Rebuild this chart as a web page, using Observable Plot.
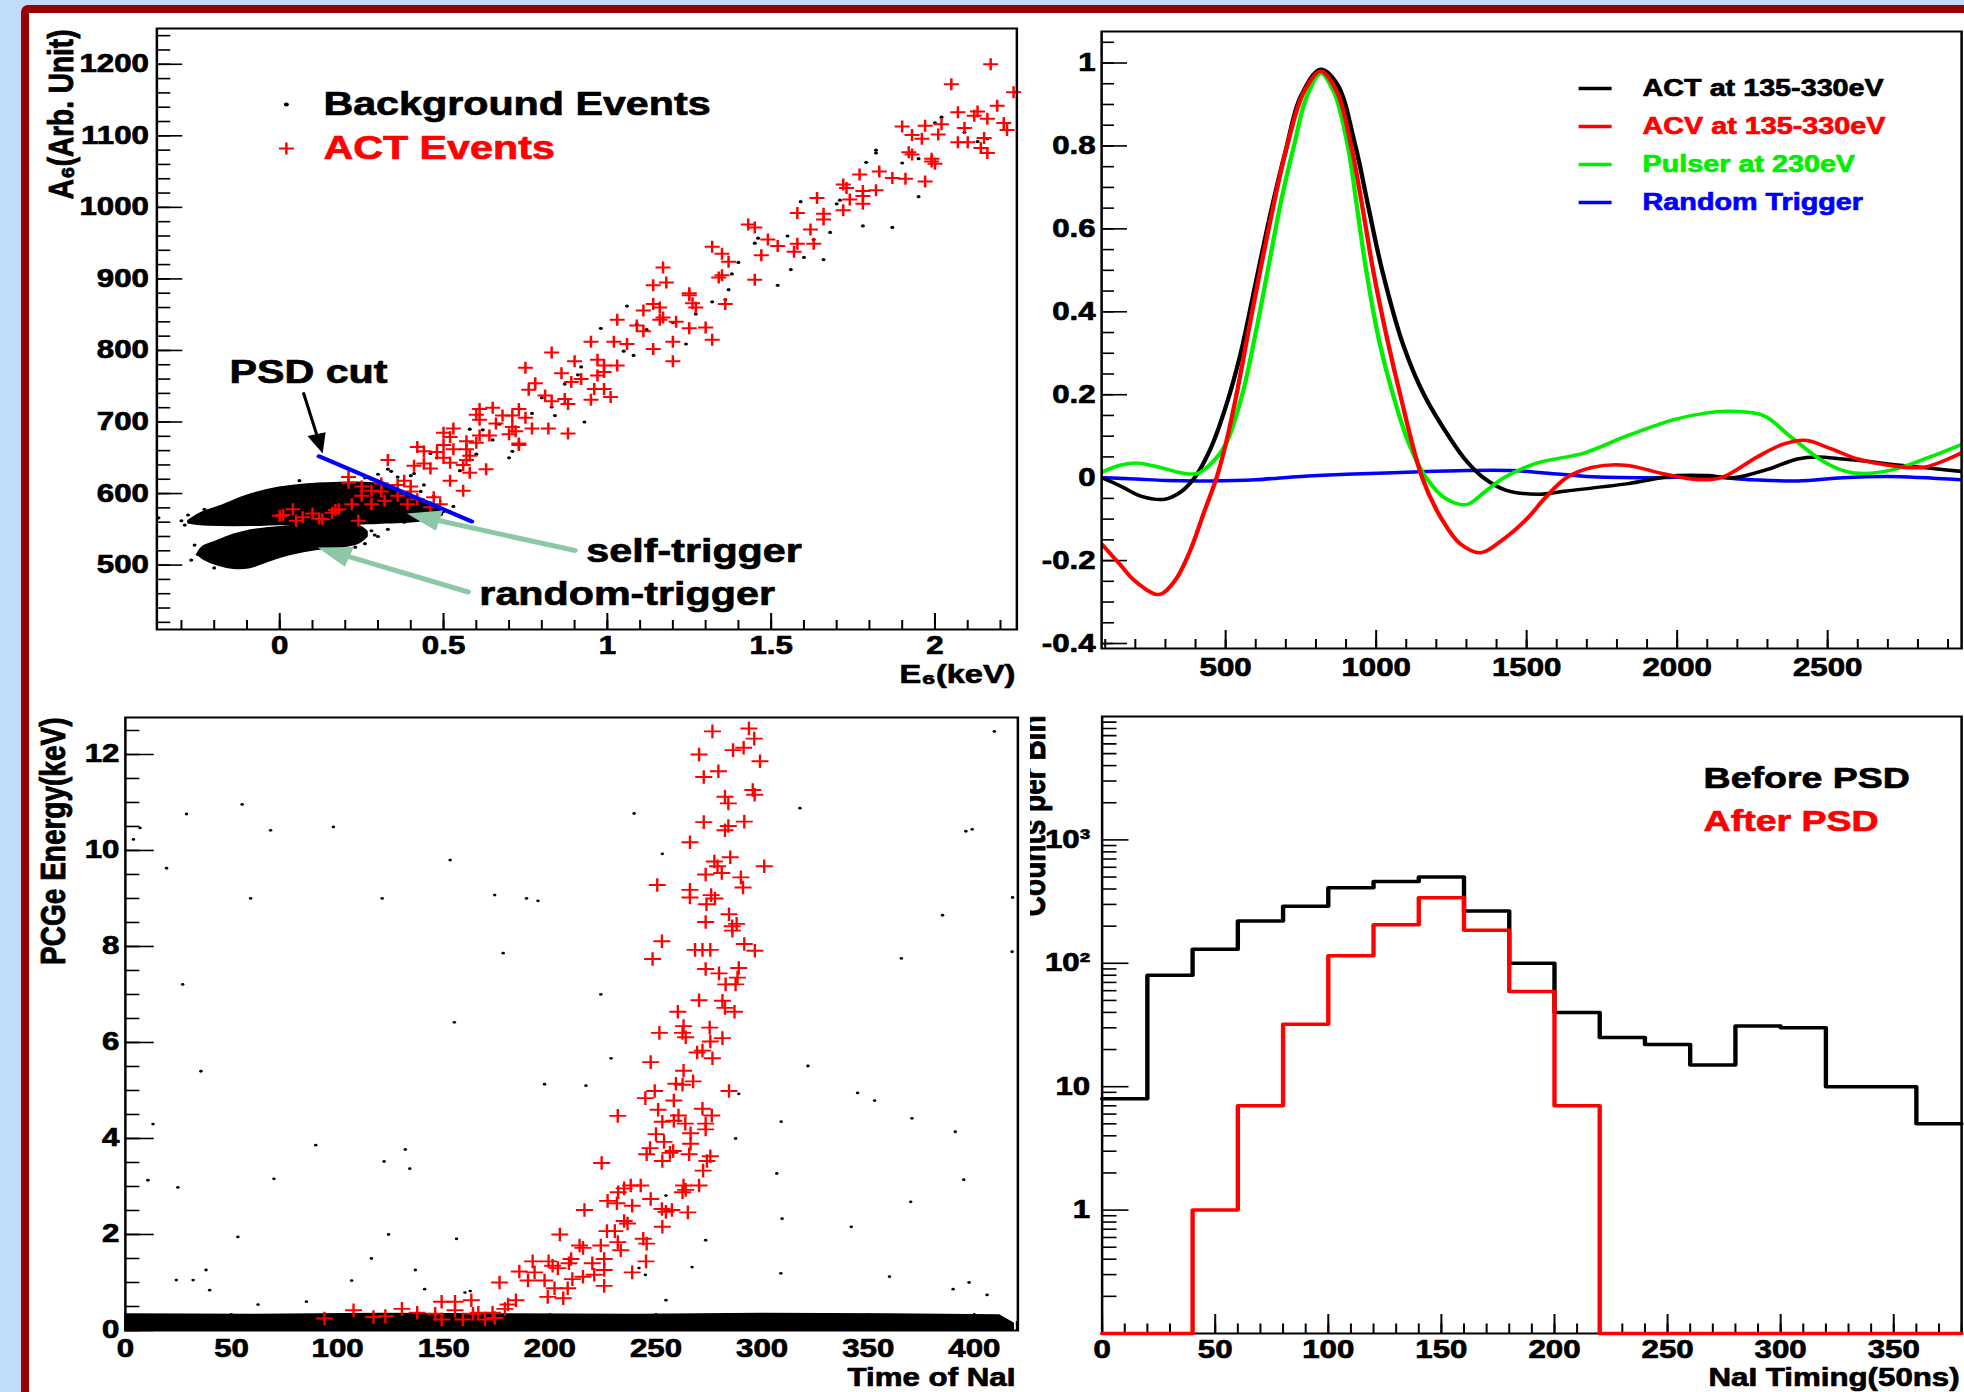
<!DOCTYPE html>
<html>
<head>
<meta charset="utf-8">
<script src="https://cdn.jsdelivr.net/npm/d3@7"></script>
<script src="https://cdn.jsdelivr.net/npm/@observablehq/plot@0.6"></script>
<style>
  html, body { margin: 0; padding: 0; background: #bfdcfb; }
  #page { position: relative; width: 1964px; height: 1392px; overflow: hidden; background: #bfdcfb; }
  #sheet { position: absolute; left: 21px; top: 5px; width: 1960px; height: 1400px; background: #990000; border-top-left-radius: 7px; }
  #paper { position: absolute; left: 29px; top: 13px; width: 1935px; height: 1379px; background: #ffffff; }
  #stretch { position: absolute; left: 0; top: 0; height: 1392px; transform-origin: 0 0; }
  .pad { position: absolute; overflow: hidden; }
</style>
</head>
<body>
<div id="page">
  <div id="sheet"></div>
  <div id="paper"></div>
  <div id="stretch"></div>
</div>
<script>
// ---------------------------------------------------------------------------
// Panel (a): A6 vs E6 scatter
// ---------------------------------------------------------------------------
const actE6 = [
  2.17,2.05,2.24,2.19,2.07,2.13,2.12,2.16,2.21,2.22,
  1.90,1.97,2.02,2.09,1.93,1.96,2.01,2.07,2.10,2.15,
  2.14,2.16,1.92,1.93,1.99,2.00,1.99,1.83,1.87,1.91,
  1.97,1.77,1.72,1.73,1.78,1.82,1.78,1.64,1.74,1.78,
  1.72,1.66,1.58,1.66,1.43,1.45,1.62,1.63,1.32,1.58,
  1.57,1.49,1.52,1.35,1.47,1.37,1.17,1.35,1.45,1.14,
  1.18,1.25,1.34,1.36,1.26,1.27,1.25,1.11,1.14,1.16,
  1.17,1.16,1.21,1.03,1.25,1.30,1.09,1.11,0.95,1.02,
  1.20,1.32,1.06,1.14,1.20,0.97,0.99,0.90,1.03,0.99,
  0.86,0.97,0.92,0.89,0.75,0.83,0.78,0.96,0.81,0.87,
  0.83,0.88,0.99,0.76,0.95,1.01,0.73,0.71,0.75,0.68,
  0.65,0.61,0.60,0.61,0.66,0.71,0.77,0.82,0.88,0.72,
  0.70,0.64,0.73,0.73,0.61,0.57,0.60,0.53,0.50,0.52,
  0.50,0.42,0.44,0.48,0.53,0.57,0.58,0.57,0.56,0.50,
  0.52,0.46,0.44,0.41,0.33,0.63,0.58,0.52,0.56,0.47,
  0.40,0.36,0.38,0.21,0.21,0.25,0.31,0.01,0.04,0.05,
  0.10,0.12,0.16,0.18,0.22,0.25,0.28,0.32,0.36,0.39,
  0.42,0.46,0.24,0.40,0.31,0.28,0.00,0.07,0.13,0.17,
  0.49
];
const actA6 = [
  1200,1172,1161,1142,1133,1134,1128,1124,1118,1108,
  1113,1114,1116,1111,1101,1096,1102,1091,1091,1097,
  1083,1076,1077,1074,1068,1061,1064,1050,1041,1040,
  1036,1046,1032,1027,1023,1024,1016,1013,1011,1005,
  996,991,992,983,976,972,969,949,945,949,
  938,955,946,935,933,924,916,905,899,891,
  895,880,902,865,866,860,877,856,865,860,
  846,843,840,843,831,832,835,827,812,812,
  812,815,809,802,785,787,779,785,779,770,
  768,765,760,756,776,797,754,746,737,732,
  729,725,746,745,731,735,718,709,706,709,
  720,718,710,703,698,693,691,691,684,687,
  683,681,670,668,681,673,671,691,685,679,
  668,665,659,658,662,662,653,647,640,650,
  643,635,642,639,647,634,629,618,604,595,
  610,612,618,623,615,610,614,570,578,562,
  572,565,573,578,585,597,585,590,597,585,
  592,581,562,603,603,604,569,567,564,577,
  585
];
const bgE6 = [
  2.02,2.09,2.16,1.82,1.82,1.79,1.95,1.95,1.78,1.87,
  1.66,1.52,1.56,1.63,1.68,1.70,1.59,1.46,1.38,1.37,
  1.36,1.32,1.24,1.20,1.09,1.12,1.08,1.05,0.98,0.93,
  0.91,0.87,0.80,0.83,0.84,0.70,0.71,0.65,0.67,0.58,
  0.62,0.48,0.46,0.41,0.40,0.34,0.30,0.26,0.28,0.36,
  0.44,0.33,-0.37,-0.26,-0.29,-0.30,0.30,0.33,0.28,-0.25,
  -0.20,0.50,0.52,0.48,0.38,0.26,0.23,1.40,1.55,1.06,
  0.92,0.77,0.55,0.60,1.27,1.71,1.90,2.00,2.13,1.60,
  1.45,-0.28,-0.23,0.43,0.47,0.53,0.29,0.20,-0.27,0.06
];
const bgA6 = [
  1126,1105,1096,1080,1076,1063,1068,1015,974,972,
  927,891,913,955,965,1005,1008,957,907,885,
  871,868,809,839,837,829,793,799,831,700,
  766,753,734,721,709,650,659,675,697,690,
  689,650,656,628,625,631,627,622,620,623,
  612,634,566,528,556,562,540,550,548,515,
  496,575,574,568,560,530,525,923,960,862,
  777,712,632,655,851,1010,1062,1118,1092,930,
  950,570,578,603,596,582,542,531,507,618
];
// dense background populations (solid at this point density): lower / upper edges
const selfBlobE  = [-0.275,-0.24,-0.18,-0.09,0.0,0.07,0.14,0.22,0.30,0.36,0.42,0.47,0.495];
const selfBlobLo = [559,557,556,556,557,557,557,557.5,559,560,561.5,566,570];
const selfBlobHi = [561,571,581,597,607,611,613,614,612,603,591,581,572];
const randBlobE  = [-0.245,-0.23,-0.19,-0.14,-0.09,-0.04,0.03,0.11,0.18,0.24,0.265];
const randBlobLo = [514,509,501,496,497,505,515,522,525,531,540];
const randBlobHi = [517,525,532,541,547,550,553,555,556,554,546];
// PSD cut line and annotation arrows
const psdCutE = [0.12, 0.586];
const psdCutA = [652, 561];
const psdArrowE = [0.073, 0.131];
const psdArrowA = [740, 656];
const trigLabels = ["self-trigger", "random-trigger"];
const trigFromE = [0.90, 0.574];
const trigFromA = [520.5, 462.5];
const trigToE = [0.388, 0.116];
const trigToA = [572, 524.7];
const p1XTicks = [0, 0.5, 1, 1.5, 2];
const p1XLabels = ["0", "0.5", "1", "1.5", "2"];
const p1YTicks = [500, 600, 700, 800, 900, 1000, 1100, 1200];

// ---------------------------------------------------------------------------
// Panel (b): averaged pulse shapes
// ---------------------------------------------------------------------------
const actT = [88,150,220,298,350,397,450,500,550,600,650,700,750,816,870,931,975,1020,1090,1159,1250,1300,1356,1430,1534,1633,1831,2000,2100,2187,2300,2400,2464,2550,2622,2741,2850,2945];
const actV = [0,-0.02,-0.045,-0.052,-0.035,0,0.07,0.17,0.3,0.47,0.64,0.79,0.92,0.985,0.95,0.8,0.65,0.5,0.32,0.2,0.09,0.04,0,-0.03,-0.04,-0.032,-0.015,0.005,0.005,0,0.02,0.045,0.05,0.045,0.04,0.03,0.022,0.015];
const acvT = [88,150,200,278,330,380,430,470,500,536,575,615,660,704,760,816,870,917,955,990,1035,1080,1153,1218,1280,1347,1420,1500,1560,1633,1720,1828,1950,2069,2147,2266,2350,2425,2510,2600,2701,2820,2945];
const acvV = [-0.16,-0.21,-0.25,-0.282,-0.25,-0.18,-0.08,0,0.08,0.2,0.35,0.5,0.66,0.8,0.93,0.98,0.93,0.8,0.65,0.5,0.34,0.2,0,-0.1,-0.16,-0.181,-0.15,-0.1,-0.05,0,0.025,0.03,0.01,-0.005,0,0.05,0.08,0.09,0.07,0.045,0.03,0.025,0.06];
const pulserT = [88,150,209,280,350,407,460,500,555,600,640,685,727,770,816,860,906,935,967,1010,1056,1110,1166,1230,1300,1360,1425,1534,1693,1831,1989,2088,2168,2286,2375,2484,2560,2622,2721,2840,2945];
const pulserV = [0.013,0.03,0.035,0.025,0.012,0.01,0.04,0.08,0.2,0.35,0.5,0.67,0.8,0.92,0.975,0.93,0.8,0.66,0.5,0.33,0.2,0.08,0,-0.05,-0.065,-0.035,0,0.035,0.06,0.1,0.14,0.155,0.16,0.15,0.1,0.04,0.015,0.01,0.02,0.05,0.08];
const randomT = [88,200,300,450,600,750,900,1100,1300,1450,1550,1700,1900,2100,2250,2400,2550,2700,2945];
const randomV = [0,-0.003,-0.007,-0.008,-0.005,0.003,0.008,0.013,0.017,0.017,0.012,0.003,0,0.002,-0.005,-0.008,0,0.003,-0.005];
const pulseNames = ["ACT at 135-330eV", "ACV at 135-330eV", "Pulser at 230eV", "Random Trigger"];
const pulseColors = ["#000000", "#ff0000", "#00ee00", "#0000ff"];
const p2XTicks = [500, 1000, 1500, 2000, 2500];
const p2YTicks = [-0.4, -0.2, 0, 0.2, 0.4, 0.6, 0.8, 1];
const p2YLabels = ["-0.4", "-0.2", "0", "0.2", "0.4", "0.6", "0.8", "1"];

// ---------------------------------------------------------------------------
// Panel (c): PCGe energy vs NaI timing
// ---------------------------------------------------------------------------
const actTime = [
  293.8,276.6,296.3,270.3,286.3,291.3,299,272.5,279.4,295.6,
  296.5,282.5,284.1,272.5,291.6,282.5,284.1,266,285,277.5,
  279,301,273.4,281,290,291,250.6,266,266,276,
  277.8,273.8,284.4,273.4,285.9,288,286,252.8,291.6,248.4,
  268.4,271.9,275.6,296.6,289,273.4,279.7,288.4,282.8,287.5,
  270.3,281.3,282.5,287,260.3,251.6,262.5,263,275.3,264,
  275.6,281.3,269.4,271.9,276.6,247.5,263,267.5,259.4,262.5,
  249.4,245,284.4,258.4,251,271.9,276.3,260.6,232,253,
  263.8,273.4,273.4,266.3,250,258.4,253.8,266.3,245.6,247.2,
  258.1,256.6,253,275.6,274,265.6,272.2,224.4,238.1,235,
  242.8,270.3,263,262.5,264,232.2,227.2,231.6,247.5,238.8,
  252.8,257.5,265,254.7,253,235,236.6,216.3,230.6,226.9,
  224,215.6,214,232,225.6,233.4,245.6,244,245.3,238.8,
  204.7,203.8,191.9,185.6,199.4,201.3,210,209,220,225.6,
  220.9,215.6,192.8,210.6,189.7,197.5,202.2,208.4,199,206.3,
  225.6,176.3,180.3,184,178.8,173,163,155.3,149,155.3,
  163.8,166.3,130.3,137.5,146,107.5,122.5,116.9,93.8,149,
  159,169.4,174
];
const actEnergy = [
  12.54,12.48,12.33,12.0,12.09,12.14,11.86,11.53,11.65,11.26,
  11.16,11.12,10.98,10.59,10.6,10.42,10.51,10.17,9.86,9.77,
  9.67,9.67,9.5,9.53,9.44,9.23,9.28,9.18,9.02,9.07,
  9.0,8.88,8.67,8.51,8.42,8.47,8.33,8.11,8.05,7.74,
  7.93,7.93,7.93,7.91,7.55,7.53,7.44,7.35,7.21,7.21,
  6.88,6.87,6.72,6.64,6.64,6.2,6.2,6.34,6.31,6.11,
  6.02,6.09,5.79,5.83,5.67,5.59,5.41,5.19,5.14,5.12,
  4.99,4.84,4.99,4.79,4.6,4.62,4.48,4.48,4.47,4.35,
  4.31,4.31,4.19,4.11,4.09,4.37,3.93,3.89,3.67,3.8,
  3.74,3.7,3.53,3.63,3.53,3.67,3.33,3.49,3.02,2.96,
  3.02,3.02,3.02,2.88,2.93,2.88,2.7,2.65,2.74,2.6,
  2.53,2.51,2.46,2.47,2.16,2.28,2.23,2.51,2.07,2.07,
  1.77,1.72,1.77,1.84,1.49,1.67,1.81,1.91,1.44,1.21,
  2.0,1.3,1.44,1.23,1.44,1.35,1.49,1.4,1.4,1.26,
  1.16,1.12,1.21,1.07,1.04,1.04,0.88,0.88,0.7,0.67,
  0.93,1.0,0.54,0.63,0.45,0.37,0.63,0.6,0.6,0.42,
  0.35,0.37,0.45,0.37,0.35,0.42,0.3,0.28,0.25,0.23,
  0.23,0.23,0.26
];
const bgTime = [
  409.4,55,28.8,6.9,3.8,68.4,98,19.4,153,239.7,
  253,317.8,396,399,59,121,174,189,194.4,418,
  385,27,178,365.6,417.8,224,155,228.8,321.6,35.6,
  197.5,217,289,345,353,13,309,370.6,391,287.5,
  89.7,131.9,121.9,134,70,10.6,306.9,395,24.7,370,
  254.7,309.4,342,53,124,156,273.4,115.9,267,308.8,
  24,31.9,38,39.7,106.6,136.6,141,360,390,397.5,
  406,254.7,242,85.3,62.5,160,162.5,245
];
const bgEnergy = [
  12.48,10.96,10.76,10.47,10.23,10.42,10.49,9.63,9.8,10.77,
  9.93,10.88,10.4,10.44,9.0,9.0,9.07,9.0,8.95,9.02,
  8.65,7.21,7.86,7.75,7.89,7.0,6.42,5.67,5.51,5.4,
  5.13,5.1,4.93,4.95,4.79,4.3,4.35,4.42,4.14,4.0,
  3.86,3.77,3.52,3.37,3.16,3.13,3.27,3.14,2.98,2.68,
  2.81,2.33,2.16,1.95,2.0,1.91,1.88,1.5,1.32,1.19,
  1.05,1.05,1.26,0.84,1.04,1.26,0.86,1.12,0.86,1.0,
  0.74,0.63,1.3,0.6,0.54,0.79,0.82,1.16
];
// noise band near threshold (solid at this density): upper edge
const bandTime = [0, 60, 120, 180, 240, 300, 360, 412, 419];
const bandTop  = [0.35, 0.34, 0.36, 0.35, 0.34, 0.36, 0.35, 0.33, 0.15];
const p3XTicks = [0, 50, 100, 150, 200, 250, 300, 350, 400];
const p3YTicks = [0, 2, 4, 6, 8, 10, 12];

// ---------------------------------------------------------------------------
// Panel (d): NaI timing histograms (20-unit bins)
// ---------------------------------------------------------------------------
const binStart = [0,20,40,60,80,100,120,140,160,180,200,220,240,260,280,300,320,340,360];
const binEnd = 380;
const beforePSD = [8,80,130,220,290,410,460,500,265,100,40,25,22,15,31,30,10,10,5];
const afterPSD  = [0,0,1,7,32,115,205,340,185,59,7,0,0,0,0,0,0,0,0];
const p4XTicks = [0, 50, 100, 150, 200, 250, 300, 350];
const p4YTicks = [1, 10, 100, 1000];
const p4YLabels = ["1", "10", "10²", "10³"];

// ---------------------------------------------------------------------------
// Layout helpers
// ---------------------------------------------------------------------------
const K = 1.25;            // horizontal stretch of the whole sheet
const FONT = "'Liberation Sans', Arial, Helvetica, sans-serif";
const stretch = document.getElementById("stretch");
stretch.style.width = (1964 / K) + "px";
stretch.style.transform = `scaleX(${K})`;

const plusSym = {draw(ctx, size) { const r = Math.sqrt(size / Math.PI); ctx.moveTo(-r, 0); ctx.lineTo(r, 0); ctx.moveTo(0, -r); ctx.lineTo(0, r); }};
const dashSym = {draw(ctx, size) { const r = Math.sqrt(size / Math.PI); ctx.moveTo(-r, 0); ctx.lineTo(r, 0); }};
const headSym = (L, W) => ({draw(ctx) { ctx.moveTo(0, 0); ctx.lineTo(-L, -W / 2); ctx.lineTo(-L, W / 2); ctx.closePath(); }});

const steps = (a, b, s) => d3.range(Math.round(a / s), Math.round(b / s) + 1).map(k => +(k * s).toFixed(6));
const tickStyle = {stroke: "black", strokeWidth: 1.6};
const heavy = color => ({fill: color, stroke: color, strokeWidth: 0.7, paintOrder: "fill"});
const xTicks = (values, len, ih) => Plot.ruleX(values, {x: d => d, insetTop: ih - len, ...tickStyle});
const yTicks = (values, len, iw) => Plot.ruleY(values, {y: d => d, insetRight: iw - len / K, ...tickStyle});
const xLabels = (values, labels, dy) => Plot.text(values, {x: d => d, text: (d, i) => labels[i], frameAnchor: "bottom", lineAnchor: "middle", dy, fontSize: 25, fontWeight: "bold", ...heavy("black")});
const yLabels = (values, labels, gap) => Plot.text(values, {y: d => d, text: (d, i) => labels[i], frameAnchor: "left", lineAnchor: "middle", dx: -gap / K, textAnchor: "end", fontSize: 25, fontWeight: "bold", ...heavy("black")});
const note = (str, {fill = "black", ...opts}) => Plot.text([str], {text: d => d, fontWeight: "bold", lineAnchor: "middle", ...heavy(fill), ...opts});

// shaft + filled triangular head; the head is turned to follow the shaft on screen
function arrows(fromX, fromY, toX, toY, xDomain, yDomain, iw, ih, {color, width, L, W}) {
  const sx = d3.scaleLinear(xDomain, [0, iw]), sy = d3.scaleLinear(yDomain, [ih, 0]);
  const idx = fromX.map((_, i) => i);
  const angle = idx.map(i => Math.atan2(sy(toY[i]) - sy(fromY[i]), sx(toX[i]) - sx(fromX[i])) * 180 / Math.PI);
  return [
    Plot.arrow(idx, {x1: fromX, y1: fromY, x2: toX, y2: toY, stroke: color, strokeWidth: width, headLength: 0, insetEnd: L - 3}),
    Plot.dot(idx, {x: toX, y: toY, symbol: headSym(L, W), rotate: angle, fill: color, stroke: "none"})
  ];
}

function panel(box, frame, x, y, build) {
  const w = (box[2] - box[0]) / K, h = box[3] - box[1];
  const iw = (frame[2] - frame[0]) / K, ih = frame[3] - frame[1];
  const fx = px => (px - frame[0]) / K;   // horizontal offset from the frame's left edge
  const fy = py => py - frame[1];         // vertical offset from the frame's top edge
  const svg = Plot.plot({
    width: w, height: h,
    marginLeft: (frame[0] - box[0]) / K, marginRight: (box[2] - frame[2]) / K,
    marginTop: frame[1] - box[1], marginBottom: box[3] - frame[3],
    x: {...x, axis: null}, y: {...y, axis: null},
    style: {background: "none", fontFamily: FONT, overflow: "visible"},
    marks: build(iw, ih, fx, fy)
  });
  const div = document.createElement("div");
  div.className = "pad";
  Object.assign(div.style, {left: box[0] / K + "px", top: box[1] + "px", width: w + "px", height: h + "px"});
  div.appendChild(svg);
  stretch.appendChild(div);
}

// ---------------------------------------------------------------------------
// (a) top left
// ---------------------------------------------------------------------------
const p1X = [-0.375, 2.25], p1Y = [410, 1250];
panel([29, 13, 1030, 700], [156.5, 28, 1016.5, 629],
  {domain: p1X}, {domain: p1Y},
  (iw, ih, fx, fy) => [
    xTicks(steps(-0.3, 2.2, 0.1), 9, ih),
    xTicks(p1XTicks, 16, ih),
    yTicks(steps(420, 1240, 20), 14, iw),
    yTicks(p1YTicks, 26, iw),
    Plot.area(selfBlobE, {x1: selfBlobE, y1: selfBlobLo, y2: selfBlobHi, fill: "black", stroke: "black", strokeWidth: 3, curve: "catmull-rom"}),
    Plot.area(randBlobE, {x1: randBlobE, y1: randBlobLo, y2: randBlobHi, fill: "black", stroke: "black", strokeWidth: 3, curve: "catmull-rom"}),
    Plot.dot(bgE6, {x: bgE6, y: bgA6, r: 1.6, fill: "black"}),
    Plot.dot(actE6, {x: actE6, y: actA6, symbol: plusSym, r: 6, stroke: "red", fill: "none", strokeWidth: 2}),
    Plot.line(psdCutE, {x: psdCutE, y: psdCutA, stroke: "#0000ff", strokeWidth: 4}),
    ...arrows(trigFromE, trigFromA, trigToE, trigToA, p1X, p1Y, iw, ih, {color: "#8cc8a6", width: 5, L: 27, W: 21}),
    ...arrows([psdArrowE[0]], [psdArrowA[0]], [psdArrowE[1]], [psdArrowA[1]], p1X, p1Y, iw, ih, {color: "black", width: 2.5, L: 20, W: 15}),
    Plot.frame({stroke: "black", strokeWidth: 2}),
    xLabels(p1XTicks, p1XLabels, 17),
    yLabels(p1YTicks, p1YTicks.map(String), 8),
    note("A₆(Arb. Unit)", {frameAnchor: "top-left", dx: fx(61), dy: 1, rotate: -90, textAnchor: "end", fontSize: 28}),
    note("E₆(keV)", {frameAnchor: "bottom-right", dx: fx(1015) - iw, dy: 45, textAnchor: "end", fontSize: 26}),
    Plot.dot([0], {frameAnchor: "top-left", dx: fx(286), dy: fy(104), r: 2, fill: "black"}),
    Plot.dot([0], {frameAnchor: "top-left", dx: fx(286), dy: fy(148), symbol: plusSym, r: 6, stroke: "red", fill: "none", strokeWidth: 2}),
    note("Background Events", {frameAnchor: "top-left", dx: fx(323), dy: fy(104), textAnchor: "start", fontSize: 33, fill: "black"}),
    note("ACT Events", {frameAnchor: "top-left", dx: fx(323), dy: fy(148), textAnchor: "start", fontSize: 33, fill: "red"}),
    note("PSD cut", {frameAnchor: "top-left", dx: fx(229), dy: fy(372), textAnchor: "start", fontSize: 33}),
    note(trigLabels[0], {frameAnchor: "top-left", dx: fx(586), dy: fy(551), textAnchor: "start", fontSize: 33}),
    note(trigLabels[1], {frameAnchor: "top-left", dx: fx(479), dy: fy(594), textAnchor: "start", fontSize: 33})
  ]);

// ---------------------------------------------------------------------------
// (b) top right
// ---------------------------------------------------------------------------
const pulseSeries = [[actT, actV], [acvT, acvV], [pulserT, pulserV], [randomT, randomV]];
panel([1030, 13, 1964, 700], [1101, 31, 1961, 648],
  {domain: [88, 2945]}, {domain: [-0.412, 1.076]},
  (iw, ih, fx, fy) => [
    xTicks(steps(100, 2900, 100), 9, ih),
    xTicks(p2XTicks, 18, ih),
    yTicks(steps(-0.4, 1.05, 0.05), 13, iw),
    yTicks(p2YTicks, 26, iw),
    ...[3, 0, 2, 1].map(k => Plot.line(pulseSeries[k][0], {x: pulseSeries[k][0], y: pulseSeries[k][1], stroke: pulseColors[k], strokeWidth: 3.5, curve: "catmull-rom", clip: true})),
    Plot.frame({stroke: "black", strokeWidth: 2}),
    xLabels(p2XTicks, p2XTicks.map(String), 20),
    yLabels(p2YTicks, p2YLabels, 6),
    ...pulseNames.flatMap((name, k) => [
      Plot.dot([name], {frameAnchor: "top-left", dx: fx(1594.5), dy: fy(88 + k * 38), symbol: dashSym, r: 16.5 / K, stroke: pulseColors[k], fill: "none", strokeWidth: 3.5}),
      note(name, {frameAnchor: "top-left", dx: fx(1642), dy: fy(88 + k * 38), textAnchor: "start", fontSize: 23, fill: pulseColors[k]})
    ])
  ]);

// ---------------------------------------------------------------------------
// (c) bottom left
// ---------------------------------------------------------------------------
panel([29, 700, 1030, 1392], [125, 717, 1017.5, 1330],
  {domain: [0, 420.5]}, {domain: [0, 12.77]},
  (iw, ih, fx, fy) => [
    xTicks(steps(0, 420, 10), 9, ih),
    xTicks(p3XTicks, 17, ih),
    yTicks(steps(0, 12.5, 0.5), 14.6, iw),
    yTicks(p3YTicks, 29, iw),
    Plot.area(bandTime, {x1: bandTime, y1: () => 0, y2: bandTop, fill: "black"}),
    Plot.dot(bgTime, {x: bgTime, y: bgEnergy, r: 1.4, fill: "black"}),
    Plot.dot(actTime, {x: actTime, y: actEnergy, symbol: plusSym, r: 6.8, stroke: "red", fill: "none", strokeWidth: 1.9}),
    Plot.frame({stroke: "black", strokeWidth: 2}),
    xLabels(p3XTicks, p3XTicks.map(String), 19),
    yLabels(p3YTicks, p3YTicks.map(String), 6),
    note("PCGe Energy(keV)", {frameAnchor: "top-left", dx: fx(53), dy: 0, rotate: -90, textAnchor: "end", fontSize: 28}),
    note("Time of NaI", {frameAnchor: "bottom-right", dx: fx(1015) - iw, dy: 48, textAnchor: "end", fontSize: 25})
  ]);

// ---------------------------------------------------------------------------
// (d) bottom right
// ---------------------------------------------------------------------------
const floorCount = 0.1;
const stepRows = counts => binStart.map((t, i) => ({t, c: Math.max(counts[i], floorCount)}))
  .concat([{t: binEnd, c: Math.max(counts[counts.length - 1], floorCount)}]);
const p4Minor = [0.1, 1, 10, 100, 1000].flatMap(d => d3.range(2, 10).map(m => +(d * m).toPrecision(3)));
panel([1030, 700, 1964, 1392], [1101.5, 716, 1961, 1333],
  {domain: [0, 380]}, {type: "log", domain: [floorCount, 10000]},
  (iw, ih, fx, fy) => [
    xTicks(steps(0, 380, 10), 9.5, ih),
    xTicks(p4XTicks, 19, ih),
    yTicks(p4Minor, 15, iw),
    yTicks(p4YTicks, 27, iw),
    Plot.frame({stroke: "black", strokeWidth: 2}),
    Plot.line(stepRows(beforePSD), {x: "t", y: "c", curve: "step-after", stroke: "black", strokeWidth: 3.5}),
    Plot.line(stepRows(afterPSD), {x: "t", y: "c", curve: "step-after", stroke: "red", strokeWidth: 3.5}),
    xLabels(p4XTicks, p4XTicks.map(String), 17),
    yLabels(p4YTicks, p4YLabels, 12),
    note("Counts per Bin", {frameAnchor: "top-left", dx: fx(1033), dy: -1, rotate: -90, textAnchor: "end", fontSize: 28}),
    note("NaI Timing(50ns)", {frameAnchor: "bottom-right", dx: fx(1959) - iw, dy: 45, textAnchor: "end", fontSize: 25}),
    note("Before PSD", {frameAnchor: "top-left", dx: fx(1703), dy: fy(778), textAnchor: "start", fontSize: 30, fill: "black"}),
    note("After PSD", {frameAnchor: "top-left", dx: fx(1703), dy: fy(821), textAnchor: "start", fontSize: 30, fill: "red"})
  ]);
</script>
</body>
</html>
